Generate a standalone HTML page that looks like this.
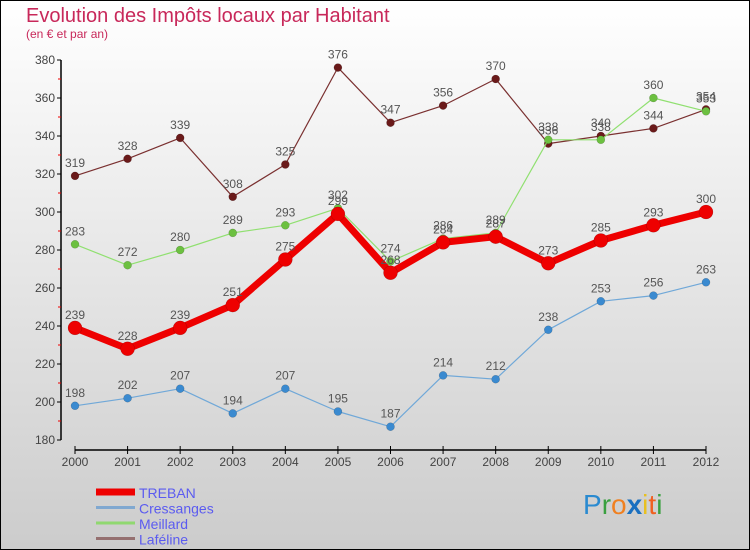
<!DOCTYPE html>
<html><head><meta charset="utf-8"><style>
html,body{margin:0;padding:0}
body{width:750px;height:550px;overflow:hidden;font-family:"Liberation Sans","DejaVu Sans",sans-serif}
svg{display:block}
</style></head><body>
<svg id="chart" width="750" height="550" xmlns="http://www.w3.org/2000/svg">
<defs><linearGradient id="bg" x1="0" y1="0" x2="0" y2="1"><stop offset="0" stop-color="#ffffff"/><stop offset="1" stop-color="#cccccc"/></linearGradient></defs>
<rect x="0.5" y="0.5" width="749" height="549" fill="url(#bg)" stroke="#000"/>
<text x="26" y="22" font-size="20" fill="#c8285a">Evolution des Impôts locaux par Habitant</text>
<text x="26" y="38" font-size="12" fill="#c8285a">(en € et par an)</text>
<g id="axes"></g>
<g id="series"></g>
<g id="legend"></g>
<text x="583" y="514" font-size="28"><tspan fill="#2a8ad0">P</tspan><tspan fill="#3aa040">r</tspan><tspan fill="#f08020">o</tspan><tspan fill="#1a70c0" font-weight="bold">x</tspan><tspan fill="#e8c020">i</tspan><tspan fill="#f06020">t</tspan><tspan fill="#3aa040">i</tspan></text>
</svg>
<script>
const years=[2000,2001,2002,2003,2004,2005,2006,2007,2008,2009,2010,2011,2012];
const yTicks=[180,200,220,240,260,280,300,320,340,360,380];
const treban=[239,228,239,251,275,299,268,284,287,273,285,293,300];
const cressanges=[198,202,207,194,207,195,187,214,212,238,253,256,263];
const meillard=[283,272,280,289,293,302,274,286,289,338,338,360,353];
const lafeline=[319,328,339,308,325,376,347,356,370,336,340,344,354];
const seriesNames=["TREBAN","Cressanges","Meillard","Laféline"];

const NS="http://www.w3.org/2000/svg";
function X(i){return 75+i*(706-75)/(years.length-1);}
function Y(v){return 440-(v-180)*(380/200);}
function mk(tag,attrs,parent){const e=document.createElementNS(NS,tag);for(const k in attrs)e.setAttribute(k,attrs[k]);parent.appendChild(e);return e;}
const axes=document.getElementById('axes');
let yl=mk('line',{x1:61,y1:60,x2:61,y2:440,stroke:'#000','stroke-width':1.5},axes);


yTicks.forEach((t,i)=>{
  mk('line',{x1:57,y1:Y(t),x2:61,y2:Y(t),stroke:'#000'},axes);
  if(i<yTicks.length-1) mk('line',{x1:58,y1:Y(t+10),x2:61,y2:Y(t+10),stroke:'#e00'},axes);
  const tx=mk('text',{x:55,y:Y(t)+4,'font-size':12,'text-anchor':'end',fill:'#444'},axes);
  tx.textContent=t;
  
  
});
let xl=mk('line',{x1:75,y1:450,x2:706,y2:450,stroke:'#000','stroke-width':1.5},axes);


years.forEach((y,i)=>{
  mk('line',{x1:X(i),y1:446,x2:X(i),y2:454,stroke:'#000'},axes);
  const tx=mk('text',{x:X(i),y:466,'font-size':12,'text-anchor':'middle',fill:'#444'},axes);
  tx.textContent=y;
  
  
});
const sg=document.getElementById('series');
function draw(data,name,color,dot,w,r){
  const g=mk('g',{},sg);
  
  
  const p=mk('polyline',{points:data.map((v,i)=>X(i)+','+Y(v)).join(' '),fill:'none',stroke:color,'stroke-width':w,'stroke-linejoin':'round'},g);
  
  
  data.forEach((v,i)=>{
    const c=mk('circle',{cx:X(i),cy:Y(v),r:r,fill:dot,stroke:'rgba(0,0,0,0.25)','stroke-width':0.5},g);
    
    
    const t=mk('text',{x:X(i),y:Y(v)-9,'font-size':12,'text-anchor':'middle',fill:'#555'},g);
    t.textContent=v;
    
    
  });
}
draw(lafeline,'lafeline','#7a3030','#6a1a1a',1.2,4);
draw(meillard,'meillard','#90e070','#6cc040',1.2,4);
draw(cressanges,'cressanges','#70a8d8','#3a8ad0',1.2,4);
draw(treban,'treban','#ee0000','#ee0000',7,7);
const lg=document.getElementById('legend');
const cols=['#ee0000','#80a8d0','#90d870','#957070'];
const ws=[7,3,3,3];
seriesNames.forEach((n,i)=>{
  const y=492+i*15.5;
  const l=mk('line',{x1:96,y1:y,x2:135,y2:y,stroke:cols[i],'stroke-width':ws[i]},lg);
  
  
  const t=mk('text',{x:139,y:y+6,'font-size':14,fill:'#5b5bf0'},lg);
  t.textContent=n;
  
  
});
</script>
</body></html>
